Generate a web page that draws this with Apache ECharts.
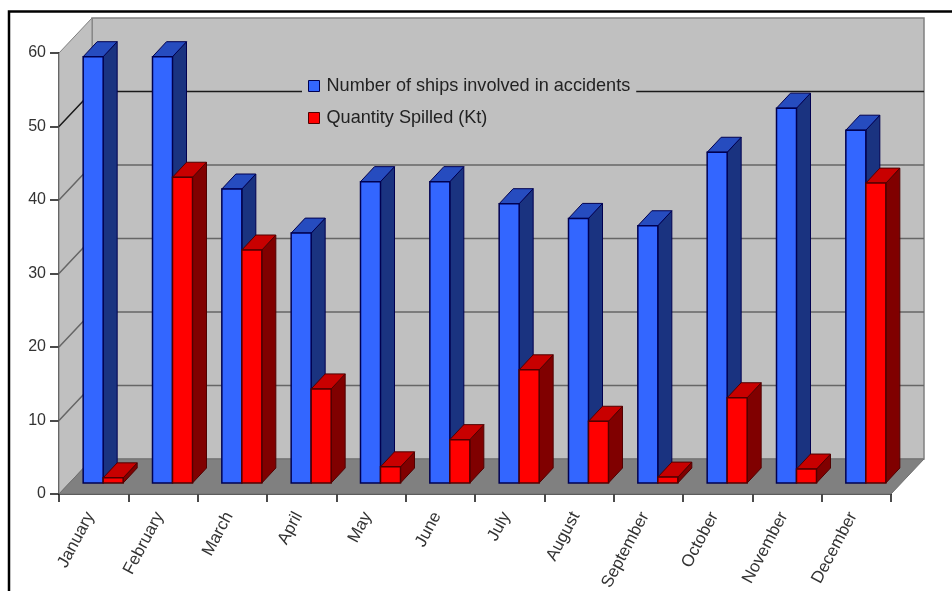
<!DOCTYPE html>
<html>
<head>
<meta charset="utf-8">
<style>html,body{margin:0;padding:0;background:#fff}#chart{width:952px;height:591px}</style>
<script src="https://cdn.jsdelivr.net/npm/echarts@6/dist/echarts.min.js"></script>
</head>
<body>
<div id="chart"></div>
<script>
const months = ['January','February','March','April','May','June','July','August','September','October','November','December'];
const ships = [58,58,40,34,41,41,38,36,35,45,51,48];
const spilled = [0.7,41.6,31.7,12.8,2.2,5.9,15.4,8.4,0.8,11.6,1.9,40.8];
const gridValues = [10,20,30,40,50];

// Room depth and the depth at which the bars stand, in pixels.
const ROOM_DX = 33, ROOM_DY = 35;
const BAR_OFF_X = 9.5, BAR_OFF_Y = 11;
const BAR_W = 20, BAR_DX = 14, BAR_DY = 15;

function poly(points, fill, stroke, lw) {
  return {type:'polygon', shape:{points}, style:{fill, stroke, lineWidth:lw}};
}

function renderRoom(params, api) {
  const c = params.coordSys;
  const l = c.x, r = c.x + c.width, t = c.y, b = c.y + c.height;
  const dx = ROOM_DX, dy = ROOM_DY;
  const border = '#808080';
  const children = [
    poly([[l+dx,t-dy],[r+dx,t-dy],[r+dx,b-dy],[l+dx,b-dy]], '#c0c0c0', border, 1.5),
    poly([[l,t],[l+dx,t-dy],[l+dx,b-dy],[l,b]], '#c0c0c0', border, 1),
    poly([[l,b],[l+dx,b-dy],[r+dx,b-dy],[r,b]], '#808080', '#707070', 1)
  ];
  gridValues.forEach(v => {
    const y = api.coord([0, v])[1];
    const color = v === 50 ? '#1a1a1a' : '#666666';
    children.push({type:'polyline', shape:{points:[[l,y],[l+dx,y-dy],[r+dx,y-dy]]},
      style:{fill:'none', stroke:color, lineWidth:1.5}});
  });
  return {type:'group', children};
}

function barRenderer(shift, front, side, top, edge) {
  return function (params, api) {
    const p0 = api.coord([api.value(0), 0]);
    const p1 = api.coord([api.value(0), api.value(1)]);
    const x0 = p0[0] + BAR_OFF_X + shift, x1 = x0 + BAR_W;
    const y0 = p0[1] - BAR_OFF_Y, y1 = p1[1] - BAR_OFF_Y;
    return {type:'group', children:[
      poly([[x1,y0],[x1+BAR_DX,y0-BAR_DY],[x1+BAR_DX,y1-BAR_DY],[x1,y1]], side, edge, 1),
      poly([[x0,y1],[x0+BAR_DX,y1-BAR_DY],[x1+BAR_DX,y1-BAR_DY],[x1,y1]], top, edge, 1),
      poly([[x0,y0],[x1,y0],[x1,y1],[x0,y1]], front, edge, 1.5)
    ]};
  };
}

const chart = echarts.init(document.getElementById('chart'), null, {renderer:'canvas'});
chart.setOption({
  animation:false,
  backgroundColor:'#ffffff',
  textStyle:{fontFamily:'Liberation Sans'},
  grid:{left:59, right:61, top:53, bottom:97, containLabel:false, outerBoundsMode:'none'},
  graphic:[{type:'polyline', z:100, shape:{points:[[9,591],[9,11.5],[952,11.5]]},
    style:{fill:'none', stroke:'#000', lineWidth:2.5}}],
  legend:{
    orient:'vertical', left:302, top:70.5, padding:[6,6,6,6],
    itemWidth:11, itemHeight:11, itemGap:13, backgroundColor:'#c0c0c0',
    textStyle:{fontSize:18.1, color:'#222', fontFamily:'Liberation Sans', lineHeight:19, padding:[0,0,0,2]},
    data:[
      {name:'Number of ships involved in accidents', icon:'rect', itemStyle:{color:'#3366ff', borderColor:'#000050', borderWidth:1}},
      {name:'Quantity Spilled (Kt)', icon:'rect', itemStyle:{color:'#ff0000', borderColor:'#500000', borderWidth:1}}
    ]
  },
  xAxis:{
    type:'category', data:months,
    axisLine:{lineStyle:{color:'#111', width:1.5}},
    axisTick:{show:true, length:8, lineStyle:{color:'#111', width:1.5}},
    axisLabel:{rotate:62, interval:0, fontSize:17, color:'#333', margin:13, padding:[0,7,0,0], hideOverlap:false}
  },
  yAxis:{
    type:'value', min:0, max:60, interval:10,
    splitLine:{show:false},
    axisLine:{show:true, lineStyle:{color:'#111', width:1.5}},
    axisTick:{show:true, length:9, lineStyle:{color:'#111', width:1.5}},
    axisLabel:{fontSize:16, color:'#333', margin:13}
  },
  series:[
    {type:'custom', name:'room', silent:true, z:1, data:[[0,0]], renderItem:renderRoom,
      encode:{x:0,y:1}},
    {type:'custom', name:'Number of ships involved in accidents', z:2,
      itemStyle:{color:'#3366ff'},
      data:ships.map((v,i)=>[i,v]), encode:{x:0,y:1},
      renderItem:barRenderer(-BAR_W,'#3366ff','#1a3380','#264cbf','#000050')},
    {type:'custom', name:'Quantity Spilled (Kt)', z:3,
      itemStyle:{color:'#ff0000'},
      data:spilled.map((v,i)=>[i,v]), encode:{x:0,y:1},
      renderItem:barRenderer(0,'#ff0000','#800000','#c80000','#500000')}
  ]
});
</script>
</body>
</html>
